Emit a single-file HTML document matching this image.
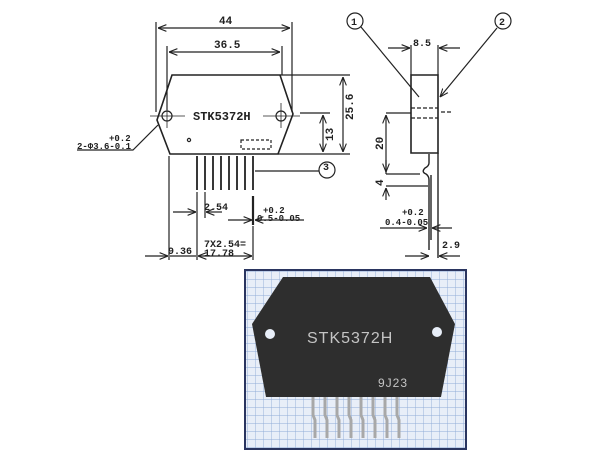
<!DOCTYPE html>
<html><head><style>body{margin:0;background:#fff}svg{display:block}text{font-family:"Liberation Mono",monospace;font-weight:bold;fill:#222}</style></head><body>
<svg width="600" height="451" viewBox="0 0 600 451" xmlns="http://www.w3.org/2000/svg">
<defs><marker id="a" viewBox="0 0 10 10" refX="10" refY="5" markerWidth="7" markerHeight="7" orient="auto-start-reverse"><path d="M0 1L10 5L0 9" fill="none" stroke="#222" stroke-width="1.3"/></marker></defs>
<g stroke="#222" stroke-width="1.2" fill="none">
<path d="M172 75H280L293 114L278 154H170L157 120Z" stroke-width="1.6"/>
<circle cx="167" cy="116" r="5"/><circle cx="281" cy="116" r="5"/>
<path d="M150 116H185M167 103V128M263 116H300M281 103V128" stroke-width="0.8"/>
<circle cx="189" cy="140" r="1.6"/>
<path d="M241 140h30v9h-30z" stroke-dasharray="3 2"/>
<path d="M197 156V190M205 156V190M213 156V190M221 156V190M229 156V190M237 156V190M245 156V190M253 156V190" stroke-width="1.8"/>
<path d="M253 196V225" stroke-width="2.2"/>
<path d="M255 171H319"/><circle cx="327" cy="170" r="8"/>
<path d="M156 22V112M292 22V112M167 46V110M282 46V75"/>
<path d="M158 28H290" marker-start="url(#a)" marker-end="url(#a)"/>
<path d="M169 52H280" marker-start="url(#a)" marker-end="url(#a)"/>
<path d="M280 75H350M278 154H350M300 113H330"/>
<path d="M343 77V152" marker-start="url(#a)" marker-end="url(#a)"/>
<path d="M323 115V152" marker-start="url(#a)" marker-end="url(#a)"/>
<path d="M158 125L133 150H77"/>
<path d="M169 156V260M197 192V260M205 192V218M253 226V260"/>
<path d="M173 212H196" marker-end="url(#a)"/><path d="M222 212H206" marker-end="url(#a)"/>
<path d="M228 220H252" marker-end="url(#a)"/><path d="M262 220H255" marker-end="url(#a)"/><path d="M256 220H304"/>
<path d="M145 256H168" marker-end="url(#a)"/><path d="M170 256H196" /><path d="M198 256H252" marker-start="url(#a)" marker-end="url(#a)"/>
<path d="M411 75H438V153H411Z" stroke-width="1.6"/>
<path d="M411 108H438M411 118H438M441 112H452" stroke-dasharray="4 2"/>
<path d="M411 45V75M438 45V75"/>
<path d="M388 48H410" marker-end="url(#a)"/><path d="M460 48H439" marker-end="url(#a)"/>
<circle cx="355" cy="21" r="8"/><circle cx="503" cy="21" r="8"/>
<path d="M361 27L419 97"/><path d="M497 28L440 97" marker-end="url(#a)"/>
<path d="M386 113H411M386 174H420M386 186H428"/>
<path d="M386 115V172" marker-start="url(#a)" marker-end="url(#a)"/>
<path d="M386 174V160" /><path d="M386 200V188" marker-end="url(#a)"/>
<path d="M429 154V163Q429 166 425 168Q421 172 426 174Q429 176 429 180V250M431 175V240M438 153V258" stroke-width="1.4"/>
<path d="M380 228H427" marker-end="url(#a)"/><path d="M452 228H432" marker-end="url(#a)"/>
<path d="M405 256H429" marker-end="url(#a)"/><path d="M460 256H439" marker-end="url(#a)"/>
</g>
<g font-size="11">
<text x="219" y="24">44</text><text x="214" y="48">36.5</text>
<text x="193" y="120" font-size="12">STK5372H</text>
<text x="323" y="170" font-size="10">3</text>
<text x="351" y="25" font-size="10">1</text><text x="499" y="25" font-size="10">2</text>
<text x="109" y="141" font-size="9">+0.2</text><text x="77" y="149" font-size="9">2-Φ3.6-0.1</text>
<text x="204" y="210" font-size="10">2.54</text>
<text x="263" y="213" font-size="9">+0.2</text><text x="257" y="221" font-size="9">0.5-0.05</text>
<text x="168" y="254" font-size="10">9.36</text>
<text x="204" y="247" font-size="10">7X2.54=</text><text x="204" y="256" font-size="10">17.78</text>
<text x="413" y="46" font-size="10">8.5</text>
<text x="442" y="248" font-size="10">2.9</text>
<text x="402" y="215" font-size="9">+0.2</text><text x="385" y="225" font-size="9">0.4-0.05</text>
<text transform="translate(353 120) rotate(-90)">25.6</text>
<text transform="translate(333 141) rotate(-90)">13</text>
<text transform="translate(383 150) rotate(-90)">20</text>
<text transform="translate(383 186) rotate(-90)">4</text>
</g>
<defs><pattern id="g" width="8" height="8" patternUnits="userSpaceOnUse"><path d="M8 0V8H0" fill="none" stroke="#90acd8" stroke-width="0.9"/></pattern></defs>
<rect x="245" y="270" width="221" height="179" fill="#e8eef8" stroke="#2a3560" stroke-width="2"/>
<rect x="246" y="271" width="219" height="177" fill="url(#g)"/>
<g stroke="#a8a8a8" stroke-width="3"><path d="M313 393V415L315 420V438M325 393V415L327 420V438M337 393V415L339 420V438M349 393V415L351 420V438M361 393V415L363 420V438M373 393V415L375 420V438M385 393V415L387 420V438M397 393V415L399 420V438"/></g>
<path d="M283 277H430L455 324L441 397H266L252 324Z" fill="#2e2e2e"/>
<circle cx="270" cy="334" r="5" fill="#e8eef8"/><circle cx="437" cy="332" r="5" fill="#e8eef8"/>
<text x="307" y="343" font-size="16" style="fill:#c4c4c4;font-weight:normal;font-family:'Liberation Sans',sans-serif;letter-spacing:1px">STK5372H</text>
<text x="378" y="387" font-size="12" style="fill:#c4c4c4;font-weight:normal;font-family:'Liberation Sans',sans-serif;letter-spacing:1px">9J23</text>
</svg>
</body></html>
